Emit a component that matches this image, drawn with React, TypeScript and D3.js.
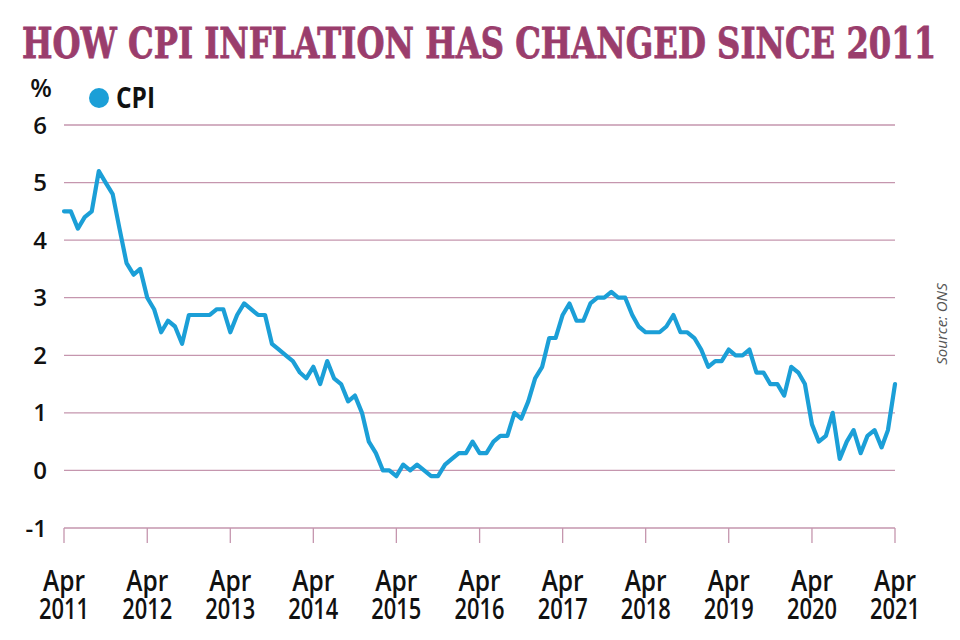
import React, { useLayoutEffect, useRef, useState } from "react";
import * as d3 from "d3";

const title = "HOW CPI INFLATION HAS CHANGED SINCE 2011";
const seriesName = "CPI";
const unitLabel = "%";
const sourceText = "Source: ONS";

const startMonth = "2011-04";
const cpiValues: number[] = [
  // 2011 Apr-Dec
  4.5, 4.5, 4.2, 4.4, 4.5, 5.2, 5.0, 4.8, 4.2,
  // 2012
  3.6, 3.4, 3.5, 3.0, 2.8, 2.4, 2.6, 2.5, 2.2, 2.7, 2.7, 2.7,
  // 2013
  2.7, 2.8, 2.8, 2.4, 2.7, 2.9, 2.8, 2.7, 2.7, 2.2, 2.1, 2.0,
  // 2014
  1.9, 1.7, 1.6, 1.8, 1.5, 1.9, 1.6, 1.5, 1.2, 1.3, 1.0, 0.5,
  // 2015
  0.3, 0.0, 0.0, -0.1, 0.1, 0.0, 0.1, 0.0, -0.1, -0.1, 0.1, 0.2,
  // 2016
  0.3, 0.3, 0.5, 0.3, 0.3, 0.5, 0.6, 0.6, 1.0, 0.9, 1.2, 1.6,
  // 2017
  1.8, 2.3, 2.3, 2.7, 2.9, 2.6, 2.6, 2.9, 3.0, 3.0, 3.1, 3.0,
  // 2018
  3.0, 2.7, 2.5, 2.4, 2.4, 2.4, 2.5, 2.7, 2.4, 2.4, 2.3, 2.1,
  // 2019
  1.8, 1.9, 1.9, 2.1, 2.0, 2.0, 2.1, 1.7, 1.7, 1.5, 1.5, 1.3,
  // 2020
  1.8, 1.7, 1.5, 0.8, 0.5, 0.6, 1.0, 0.2, 0.5, 0.7, 0.3, 0.6,
  // 2021 Jan-Apr
  0.7, 0.4, 0.7, 1.5,
];

const yTicks = [-1, 0, 1, 2, 3, 4, 5, 6];
const xTickYears = [2011, 2012, 2013, 2014, 2015, 2016, 2017, 2018, 2019, 2020, 2021];
const xTickMonthLabel = "Apr";

const W = 960;
const H = 640;
const M = { left: 64, right: 895, top: 125, bottom: 528 };

const TITLE_COLOR = "#9a3d6c";
const LINE_COLOR = "#1b9fd7";
const GRID_COLOR = "#c596ae";

const TITLE_X = 22;
const TITLE_W = 914;

export default function App() {
  const titleRef = useRef<SVGTextElement>(null);
  const [titleScale, setTitleScale] = useState(0.75);

  useLayoutEffect(() => {
    if (titleRef.current) {
      const w = titleRef.current.getComputedTextLength();
      if (w > 0) setTitleScale(TITLE_W / w);
    }
  }, []);

  const parse = d3.timeParse("%Y-%m");
  const start = parse(startMonth)!;
  const data = cpiValues.map((v, i) => ({ date: d3.timeMonth.offset(start, i), value: v }));

  const x = d3
    .scaleTime()
    .domain([new Date(2011, 3, 1), new Date(2021, 3, 1)])
    .range([M.left, M.right]);
  const y = d3.scaleLinear().domain([-1, 6]).range([M.bottom, M.top]);

  const line = d3
    .line<{ date: Date; value: number }>()
    .x((d) => x(d.date))
    .y((d) => y(d.value));

  const tickDates = xTickYears.map((yr) => new Date(yr, 3, 1));

  return (
    <svg width={W} height={H} style={{ position: "absolute", left: 0, top: 0, background: "#fff" }}>
      <g transform={`translate(${TITLE_X}, 58) scale(${titleScale}, 1)`}>
        <text
          ref={titleRef}
          x={0}
          y={0}
          fill={TITLE_COLOR}
          stroke={TITLE_COLOR}
          strokeWidth={0.8}
          fontFamily="'DejaVu Serif Condensed', 'DejaVu Serif', serif"
          fontWeight={700}
          fontSize={43}
          style={{ fontStretch: "condensed" }}
        >
          {title}
        </text>
      </g>

      {/* unit label */}
      <text x={41} y={97} textAnchor="middle" fontFamily="'Open Sans', sans-serif" fontWeight={600} fontSize={25} fill="#111">
        {unitLabel}
      </text>

      {/* legend */}
      <circle cx={99} cy={98} r={10} fill={LINE_COLOR} />
      <text
        x={116}
        y={108}
        fontFamily="'Open Sans', sans-serif"
        fontWeight={700}
        fontSize={29}
        fill="#111"
        textLength={39}
        lengthAdjust="spacingAndGlyphs"
      >
        {seriesName}
      </text>

      {/* gridlines */}
      {yTicks.map((t) => (
        <g key={t}>
          <line x1={M.left} x2={M.right} y1={y(t)} y2={y(t)} stroke={GRID_COLOR} strokeWidth={1.3} />
          <text
            x={47}
            y={y(t)}
            dy="0.36em"
            textAnchor="end"
            fontFamily="'Open Sans', sans-serif"
            fontWeight={600}
            fontSize={24}
            fill="#111"
          >
            {t}
          </text>
        </g>
      ))}

      {/* x ticks */}
      {tickDates.map((d, i) => (
        <g key={i}>
          <line x1={x(d)} x2={x(d)} y1={M.bottom} y2={M.bottom + 15} stroke={GRID_COLOR} strokeWidth={1.3} />
          <text
            textAnchor="middle"
            fontFamily="'Open Sans', sans-serif"
            fontWeight={600}
            fontSize={28}
            fill="#111"
          >
            <tspan x={x(d)} y={591} textLength={42} lengthAdjust="spacingAndGlyphs">
              {xTickMonthLabel}
            </tspan>
            <tspan x={x(d)} y={619} textLength={50} lengthAdjust="spacingAndGlyphs">
              {xTickYears[i]}
            </tspan>
          </text>
        </g>
      ))}

      {/* line */}
      <path d={line(data) ?? ""} fill="none" stroke={LINE_COLOR} strokeWidth={4.2} strokeLinejoin="round" strokeLinecap="round" />

      {/* source */}
      <text
        transform={`translate(947, 324) rotate(-90)`}
        textAnchor="middle"
        fontFamily="'Open Sans', sans-serif"
        fontStyle="italic"
        fontSize={15}
        fill="#555"
      >
        {sourceText}
      </text>
    </svg>
  );
}
